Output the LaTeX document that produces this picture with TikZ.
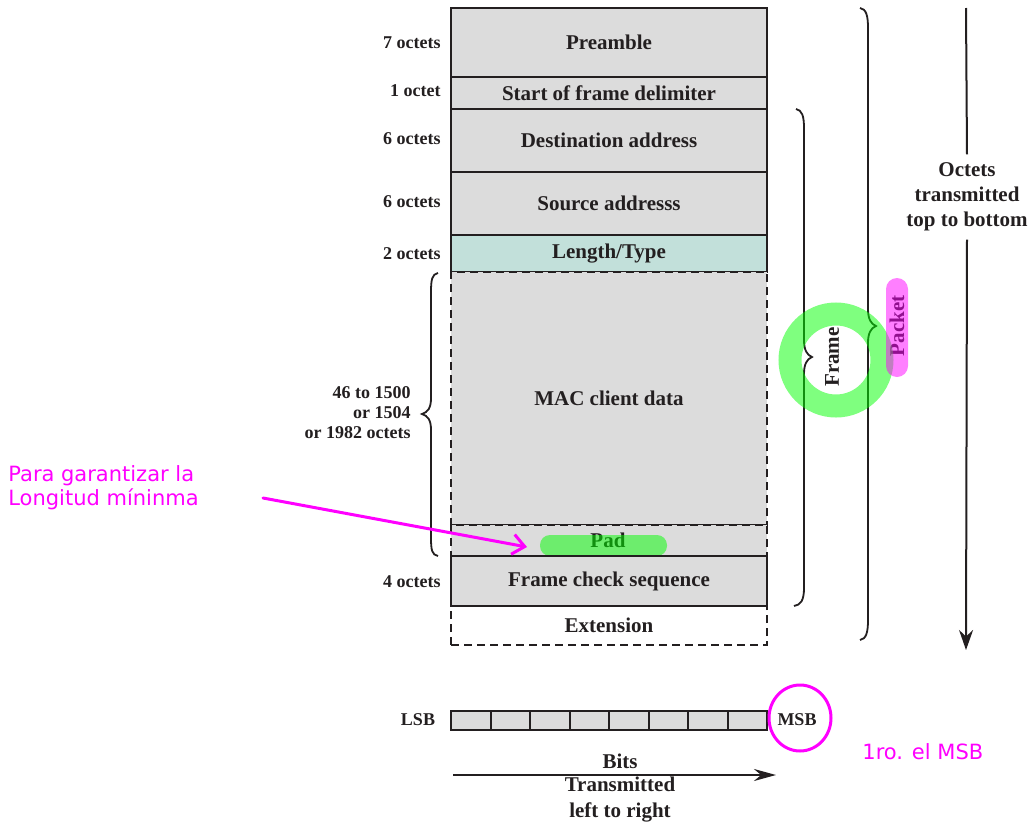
\documentclass[tikz,border=0pt]{standalone}
\usepackage{fontspec}
\setmainfont{Liberation Serif}
\newfontfamily\notefont{DejaVu Sans}
\usetikzlibrary{arrows.meta,fit}
\definecolor{ink}{HTML}{231F20}
\definecolor{cellgray}{HTML}{DCDCDC}
\definecolor{lentype}{HTML}{C2E0DA}
\definecolor{hotpink}{RGB}{255,0,255}
\definecolor{brightgreen}{RGB}{0,255,0}
\begin{document}
\begin{tikzpicture}[x=0.5pt,y=-0.5pt,
  font=\bfseries\fontsize{10.5}{12.5}\selectfont, text=ink,
  field/.style={draw=ink, line width=1pt, fill=cellgray, inner sep=0pt},
  dfield/.style={field, dash pattern=on 4pt off 2.5pt},
  size/.style={anchor=east, inner sep=0pt, font=\bfseries\fontsize{9}{10}\selectfont, align=right},
  brace/.style={draw=ink, line width=0.9pt},
  note/.style={text=hotpink, inner sep=0pt, font=\notefont\fontsize{10.5}{12}\selectfont, align=left},
  hilite/.style={line width=1.5pt, draw=hotpink, line cap=round},
]
\useasboundingbox (0,0) rectangle (1030,825);

% frame fields
\node[field, fit={(451,8)(767,77)}] (pre) {};
\node[field, fit={(451,77)(767,109)}] (sfd) {};
\node[field, fit={(451,109)(767,172)}] (dst) {};
\node[field, fit={(451,172)(767,235)}] (src) {};
\node[field, fill=lentype, fit={(451,235)(767,272)}] (len) {};
\node[dfield, fit={(451,272)(767,525)}] (mac) {};
\node[dfield, fit={(451,525)(767,556)}] (pad) {};
\node (padtxt) at (608,540) {Pad};
\fill[brightgreen, opacity=0.5, rounded corners=5pt] (540,535) rectangle (667,556);
\node[dfield, fill=white, fit={(451,606)(767,645)}] (ext) {};
\node[field, fit={(451,556)(767,606)}] (fcs) {};

\node (pre-t) at (pre.center) {Preamble};
\node (sfd-t) at (sfd.center) {Start of frame delimiter};
\node (dst-t) at (dst.center) {Destination address};
\node (src-t) at (src.center) {Source addresss};
\node (len-t) at (len.center) {Length/Type};
\node (mac-t) at (mac.center) {MAC client data};
\node (fcs-t) at (fcs.center) {Frame check sequence};
\node (ext-t) at (ext.center) {Extension};

% sizes
\node[size] (s1) at (441,43) {7 octets};
\node[size] (s2) at (441,91) {1 octet};
\node[size] (s3) at (441,139) {6 octets};
\node[size] (s4) at (441,202) {6 octets};
\node[size] (s5) at (441,254) {2 octets};
\node[size] (s6) at (411,413) {46 to 1500\\or 1504\\or 1982 octets};
\node[size] (s7) at (441,582) {4 octets};

% braces
\draw[brace] (438,273) .. controls (432,274) and (431,280) .. (431,292) -- (431,398)
  .. controls (431,408) and (428,412) .. (422,414) .. controls (428,416) and (431,420) .. (431,430)
  -- (431,538) .. controls (431,550) and (432,555) .. (438,556);
\draw[brace] (796,109) .. controls (802,110) and (804,116) .. (804,128) -- (804,340)
  .. controls (804,350) and (807,355) .. (812,357) .. controls (807,359) and (804,364) .. (804,374)
  -- (804,588) .. controls (804,600) and (801,605) .. (794,606);
\draw[brace] (860,8) .. controls (866,9) and (868,15) .. (868,28) -- (868,309)
  .. controls (868,319) and (871,324) .. (876,326) .. controls (871,328) and (868,333) .. (868,343)
  -- (868,620) .. controls (868,633) and (866,639) .. (860,640);

\node[rotate=90] (framelbl) at (832,357) {Frame};
\node[rotate=90] (packetlbl) at (897,326) {Packet};

% transmission order of octets
\node[align=center, inner ysep=4pt] (octets) at (967,197) {Octets\\transmitted\\top to bottom};
\coordinate (otop) at (966,8);
\coordinate (obot) at (966,650);
\draw[ink, line width=1pt] (otop) -- (octets.north);
\draw[ink, line width=1pt, -{Stealth[length=10pt, width=7pt]}] (octets.south) -- (obot);

% bit order
\foreach \i in {0,...,7}{
  \node[field, fit={({451+39.5*\i},711)({451+39.5*(\i+1)},730)}] (bit\i) {};
}
\node[font=\bfseries\fontsize{9}{10}\selectfont] (lsb) at (418,720) {LSB};
\node[font=\bfseries\fontsize{9}{10}\selectfont] (msb) at (797,720) {MSB};
\node (bits) at (620,761) {Bits};
\node[align=center, font=\bfseries\fontsize{10.5}{13}\selectfont] (bitsdir) at (620,800) {Transmitted\\left to right};
\coordinate (bstart) at (453,775);
\coordinate (bend) at (776,775);
\draw[ink, line width=1pt, -{Stealth[length=11pt, width=6pt]}] (bstart) -- (bend);

% highlights
\draw[brightgreen, opacity=0.5, line width=11.5pt] (836,360) circle[radius=46];
\fill[hotpink, opacity=0.5, rounded corners=5.5pt] (886,278) rectangle (908,377);
\draw[hilite] (msb.center) ++(3,-2) ellipse[x radius=31, y radius=33];
\node[note, anchor=west] (msbnote) at (862,752) {1ro. el MSB};
\node[note, anchor=west] (padnote) at (8,488) {Para garantizar la\\Longitud míninma};
\coordinate (nstart) at (263,498);
\coordinate (ntip) at (527,547);
\draw[hilite, -{Straight Barb[length=6pt, width=10pt]}] (nstart) -- (ntip);
\end{tikzpicture}
\end{document}
